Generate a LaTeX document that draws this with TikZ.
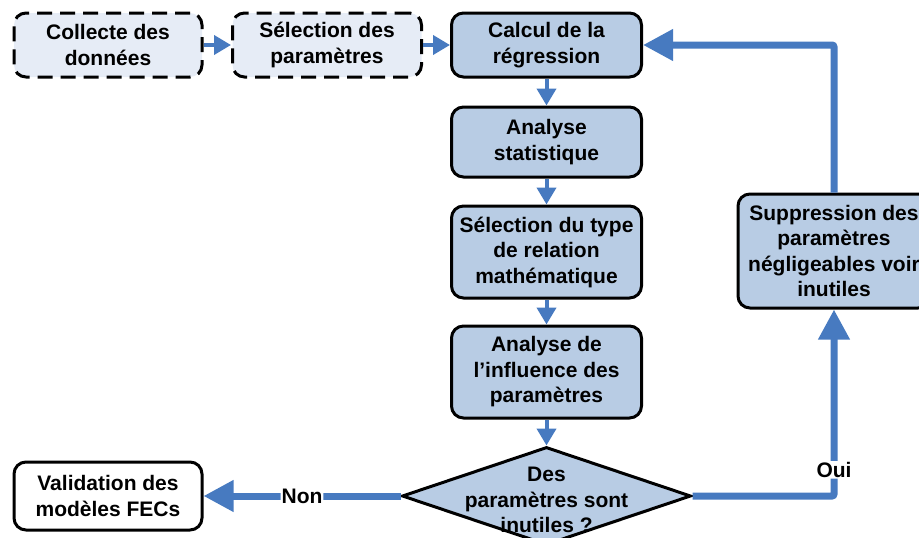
\documentclass[tikz,border=0pt]{standalone}
\usepackage{fontspec}
\setmainfont{Liberation Sans}
\usetikzlibrary{arrows.meta,shapes.geometric}
\definecolor{boxfill}{RGB}{184,204,228}
\definecolor{lightfill}{RGB}{230,236,246}
\definecolor{flow}{RGB}{71,122,192}
\begin{document}
\begin{tikzpicture}[x=1pt,y=-1pt,
  txt/.style={align=center, inner sep=0pt, font=\fontsize{21}{25.5}\selectfont\bfseries},
  box/.style={txt, draw=black, line width=3pt, rounded corners=12pt, fill=boxfill, minimum width=190pt},
  dbox/.style={box, fill=lightfill, dash pattern=on 15pt off 8pt},
  smallarrow/.style={draw=flow, line width=4pt, -{Triangle[length=17pt,width=19pt]}},
  bigarrow/.style={draw=flow, line width=7pt, rounded corners=2pt, -{Triangle[length=30pt,width=30pt]}},
  lab/.style={txt, fill=white, inner sep=1pt}]
\useasboundingbox (0,0) rectangle (919,538);

\node[dbox, minimum width=188pt, minimum height=64pt] (collecte) at (108,45) {Collecte des\\données};
\node[dbox, minimum width=189pt, minimum height=64pt] (selparam) at (327,45) {Sélection des\\paramètres};
\node[box, minimum height=64pt] (calcul) at (546.5,45) {Calcul de la\\régression};
\node[box, minimum height=70pt] (analyse) at (546.5,142) {Analyse\\statistique};
\node[box, minimum height=92pt] (seltype) at (546.5,252) {Sélection du type\\de relation\\mathématique};
\node[box, minimum height=92pt] (influence) at (546.5,372) {Analyse de\\l’influence des\\paramètres};
\node[diamond, draw=black, line width=3pt, fill=boxfill, minimum width=289pt, minimum height=98pt, inner sep=0pt] (dia) at (546.5,496) {};
\node[txt] (question) at (546.5,500) {Des\\paramètres sont\\inutiles ?};
\node[box, minimum width=192pt, minimum height=114pt] (supp) at (834,251) {Suppression des\\paramètres\\négligeables voir\\inutiles};
\node[box, fill=white, minimum width=188pt, minimum height=68pt] (valid) at (108,496) {Validation des\\modèles FECs};

\draw[smallarrow] (collecte.east) -- (selparam.west);
\draw[smallarrow] (selparam.east) -- (calcul.west);
\draw[smallarrow] (calcul.south) -- (analyse.north);
\draw[smallarrow] (analyse.south) -- (seltype.north);
\draw[smallarrow] (seltype.south) -- (influence.north);
\draw[smallarrow] (influence.south) -- (dia.north);

\draw[bigarrow] (dia.west) -- node[lab] (non) {Non} (valid.east);
\draw[bigarrow] (dia.east) -| node[lab, pos=0.57] (oui) {Oui} (supp.south);
\draw[bigarrow] (supp.north) |- (calcul.east);
\end{tikzpicture}
\end{document}
